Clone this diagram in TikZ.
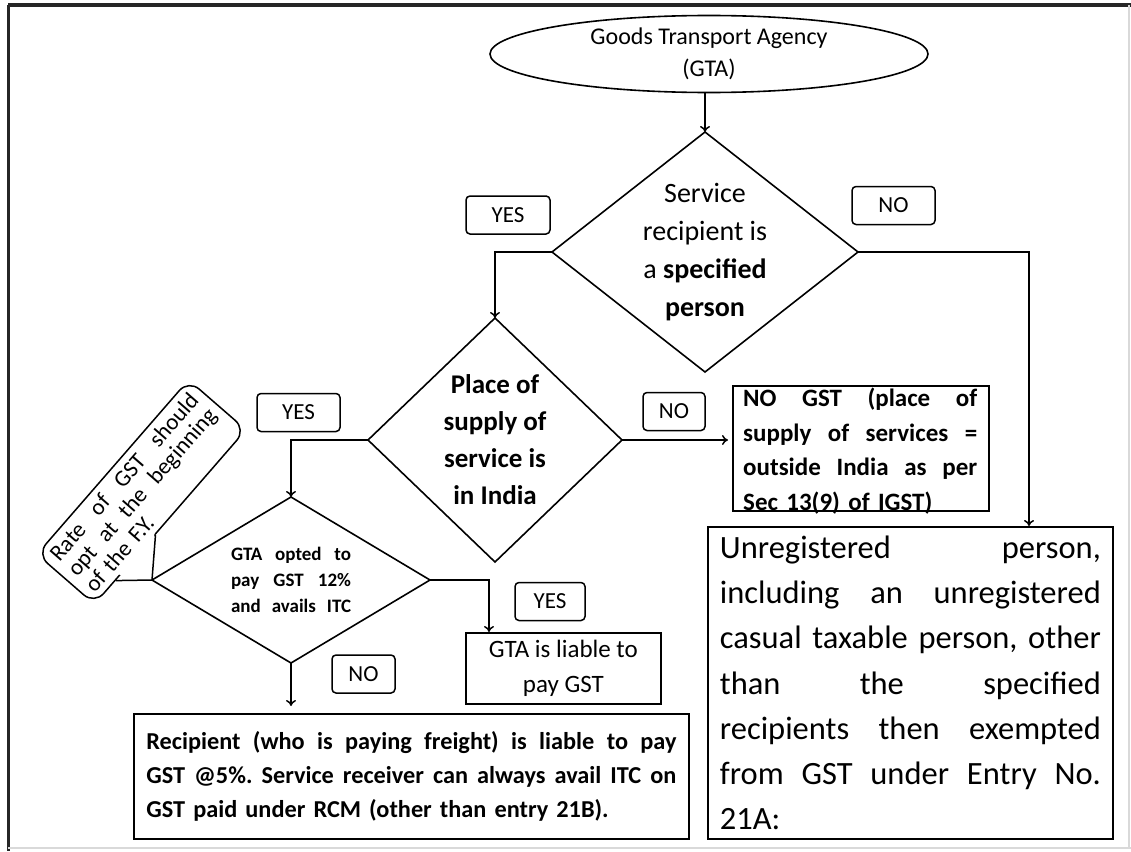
\documentclass[tikz,border=0pt]{standalone}
\usepackage{fontspec}
\setmainfont{Carlito}
\usetikzlibrary{shapes.geometric, arrows.meta, calc}

% one justified line of a given width
\newcommand{\jline}[2]{\leavevmode\hbox to #1{#2}}

\begin{document}
\begin{tikzpicture}[
    x=1pt, y=-1pt,
    % ── node styles ─────────────────────────────────────────
    terminal/.style = { draw, ellipse, line width=1.6pt, minimum width=438pt,
            minimum height=77pt, inner sep=0pt, align=center,
            font=\fontsize{24}{32}\selectfont, },
    decision/.style = { draw, diamond, line width=1.6pt, inner sep=0pt,
            outer sep=0pt, align=center, },
    outbox/.style = { draw, rectangle, line width=1.8pt, inner sep=0pt, },
    answer/.style = { draw, rounded corners=4pt, line width=1.5pt,
            minimum height=38pt, inner sep=0pt, font=\fontsize{23}{26}\selectfont, },
    note/.style = { draw, rounded corners=14pt, line width=1.5pt, rotate=49,
            minimum width=231pt, minimum height=76pt, text width=214pt,
            align=left, inner sep=0pt, font=\fontsize{23}{23.5}\selectfont, },
    arr/.style = {line width=1.5pt, -{To[length=6pt, width=10pt]}},
    ]

    \useasboundingbox (0,0) rectangle (1131,851);

    % ============================================================
    % FRAME
    % ============================================================
    \draw[line width=3.5pt, black!85] (8,5) -- (1131,5);
    \draw[line width=3pt, black!85] (8,5) -- (8,851);
    \draw[line width=1.5pt, black!15] (8,848) -- (1131,848);
    \draw[line width=1.5pt, black!15] (1129,5) -- (1129,848);

    % ============================================================
    % START — GTA
    % ============================================================
    \node[terminal] (gta) at (709,54) {Goods Transport Agency\\(GTA)};

    % ============================================================
    % DECISIONS
    % ============================================================
    \node[decision, minimum width=306pt, minimum height=240pt, aspect=1.275,
        font=\fontsize{28}{38}\selectfont]
    (recip) at (705,252)
    {Service\\recipient is\\a \textbf{specified}\\\textbf{person}};

    \node[decision, minimum width=254pt, minimum height=244pt, aspect=1.04,
        font=\bfseries\fontsize{27}{37}\selectfont]
    (place) at (495,440)
    {Place of\\supply of\\service is\\in India};

    \node[decision, minimum width=278pt, minimum height=166pt, aspect=1.675,
        font=\bfseries\fontsize{19}{26}\selectfont]
    (opted) at (291,580)
    {\jline{120pt}{GTA\hfill opted\hfill to}\\
        \jline{120pt}{pay\hfill GST\hfill 12\%}\\
        \jline{120pt}{and\hfill avails\hfill ITC}};

    % ============================================================
    % OUTCOMES
    % ============================================================
    \node[outbox, minimum width=256pt, minimum height=125pt, anchor=north west]
    (nogst) at (732,385) {};
    \node[anchor=north west, inner sep=0pt, text width=234pt, align=left,
        font=\bfseries\fontsize{25}{34.5}\selectfont]
    (nogst-text) at (743,388)
    {\jline{234pt}{NO\hfill GST\hfill (place\hfill of}\\
        \jline{234pt}{supply\hfill of\hfill services\hfill =}\\
        \jline{234pt}{outside\hfill India\hfill as\hfill per}\\
        Sec 13(9) of IGST)};

    \node[outbox, minimum width=405pt, minimum height=312pt, text width=381pt,
        inner xsep=12pt, align=left, anchor=north west,
        font=\fontsize{32.5}{45.3}\selectfont]
    (exempt) at (707,526)
    {\jline{381pt}{Unregistered\hfill person,}\\
        \jline{381pt}{including\hfill an\hfill unregistered}\\
        \jline{381pt}{casual\hfill taxable\hfill person,\hfill other}\\
        \jline{381pt}{than\hfill the\hfill specified}\\
        \jline{381pt}{recipients\hfill then\hfill exempted}\\
        \jline{381pt}{from\hfill GST\hfill under\hfill Entry\hfill No.}\\
        21A:};

    \node[outbox, minimum width=195pt, minimum height=71pt, align=center,
        anchor=north west, font=\fontsize{25}{35}\selectfont]
    (gtapay) at (465,632)
    {GTA is liable to\\pay GST};

    \node[outbox, minimum height=125pt, text width=530pt, inner xsep=12.5pt,
        align=left, anchor=north west, font=\bfseries\fontsize{24.3}{34}\selectfont]
    (payer) at (133,713)
    {\jline{530pt}{Recipient\hfill (who\hfill is\hfill paying\hfill freight)\hfill is\hfill liable\hfill to\hfill pay}\\
        \jline{530pt}{GST\hfill @5\%.\hfill Service\hfill receiver\hfill can\hfill always\hfill avail\hfill ITC\hfill on}\\
        GST paid under RCM (other than entry 21B).};

    % ============================================================
    % NOTE
    % ============================================================
    \node[note] (ratenote) at (141.5,492)
    {\jline{214pt}{Rate\hfill of\hfill GST\hfill should}\\
        \jline{214pt}{opt\hfill at\hfill the\hfill beginning}\\
        of the F.Y.};

    % pointer of the note, towards the decision
    \coordinate (note-p1) at ($(ratenote.south)!0.20!(ratenote.south west)$);
    \coordinate (note-p2) at ($(ratenote.south)!0.72!(ratenote.south west)$);
    \fill[white] ($(ratenote.center)!0.93!(note-p1)$) -- (opted.west)
    -- ($(ratenote.center)!0.93!(note-p2)$) -- cycle;
    \draw[line width=1.5pt, line join=round] (note-p1) -- (opted.west) -- (note-p2);

    % ============================================================
    % YES / NO LABELS
    % ============================================================
    \node[answer, minimum width=84pt] (yes-recip) at (508,215) {YES};
    \node[answer, minimum width=83pt] (no-recip) at (893.5,205.5) {NO};
    \node[answer, minimum width=83pt] (yes-place) at (298.5,412.5) {YES};
    \node[answer, minimum width=62pt] (no-place) at (674,411.5) {NO};
    \node[answer, minimum width=70pt] (yes-opted) at (550,601.5) {YES};
    \node[answer, minimum width=63pt] (no-opted) at (363.5,674) {NO};

    % ============================================================
    % CONNECTORS
    % ============================================================
    \coordinate (no-drop) at (1029,0);
    \coordinate (yes-drop) at (489,0);

    \draw[arr] (recip.north |- gta.south) -- (recip.north);
    \draw[arr] (recip.west) -| (place.north);
    \draw[arr] (recip.east) -| (no-drop |- exempt.north);
    \draw[arr] (place.west) -| (opted.north);
    \draw[arr, shorten >=4pt] (place.east) -- (place.east -| nogst.west);
    \draw[arr] (opted.east) -| (yes-drop |- gtapay.north);
    \draw[arr, shorten >=7pt] (opted.south) -- (opted.south |- payer.north);

\end{tikzpicture}
\end{document}
